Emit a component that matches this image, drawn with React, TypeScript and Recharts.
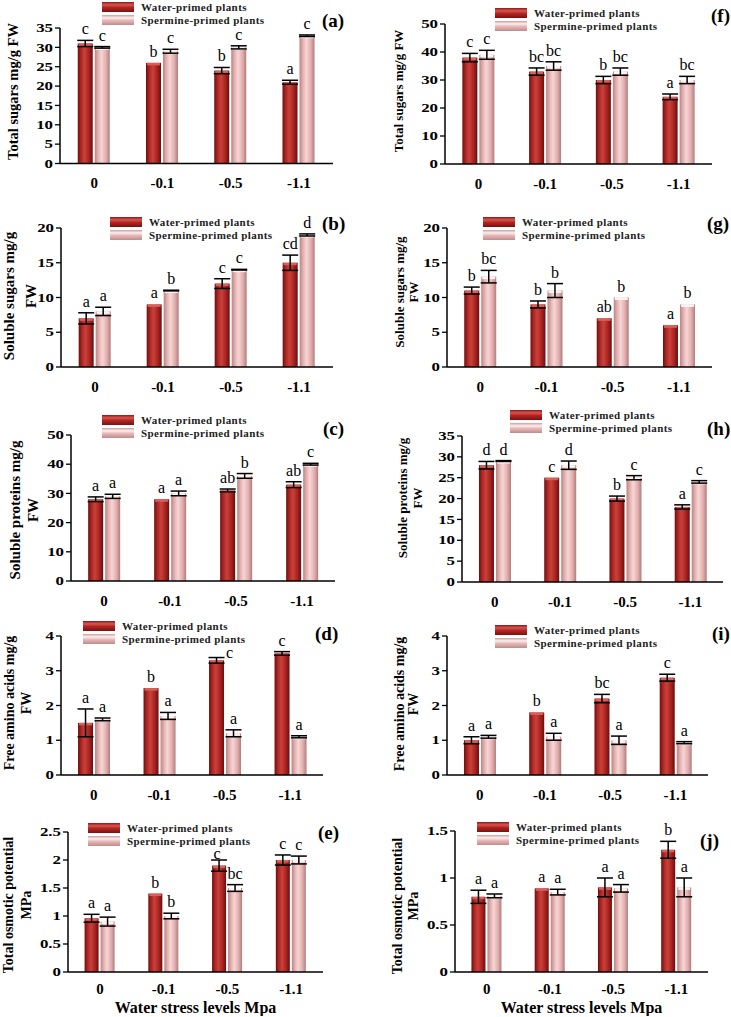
import { BarChart, Bar, XAxis, YAxis, ErrorBar, LabelList, Legend, Label } from 'recharts';

const SERIF = '"Liberation Serif", "Times New Roman", serif';

const levels = ['0', '-0.1', '-0.5', '-1.1'];
const edgeTicks = [0, 1, 2, 3, 4];

// (a) total sugars, left
const aWater = [31, 26, 24, 21];
const aWaterSe = [0.8, 0, 0.8, 0.5];
const aSperm = [30, 29, 30, 33];
const aSpermSe = [0.2, 0.5, 0.4, 0.2];
const aWaterSig = ['c', 'b', 'b', 'a'];
const aSpermSig = ['c', 'c', 'c', 'c'];
const aTicks = [0, 5, 10, 15, 20, 25, 30, 35];

// (f) total sugars, right
const fWater = [38, 33, 30, 24];
const fWaterSe = [1.5, 1.3, 1.3, 1.0];
const fSperm = [39, 35, 33, 30];
const fSpermSe = [1.6, 1.5, 1.3, 1.3];
const fWaterSig = ['c', 'bc', 'b', 'a'];
const fSpermSig = ['c', 'bc', 'bc', 'bc'];
const fTicks = [0, 10, 20, 30, 40, 50];

// (b) soluble sugars, left
const bWater = [7, 9, 12, 15];
const bWaterSe = [0.8, 0, 0.7, 1.1];
const bSperm = [8, 11, 14, 19];
const bSpermSe = [0.6, 0.05, 0.05, 0.15];
const bWaterSig = ['a', 'a', 'c', 'cd'];
const bSpermSig = ['a', 'b', 'c', 'd'];
const bTicks = [0, 5, 10, 15, 20];

// (g) soluble sugars, right
const gWater = [11, 9, 7, 6];
const gWaterSe = [0.5, 0.5, 0, 0];
const gSperm = [13, 11, 10, 9];
const gSpermSe = [0.9, 1.0, 0, 0];
const gWaterSig = ['b', 'b', 'ab', 'a'];
const gSpermSig = ['bc', 'b', 'b', 'b'];
const gTicks = [0, 5, 10, 15, 20];

// (c) soluble proteins, left
const cWater = [28, 28, 31, 33];
const cWaterSe = [0.8, 0, 0.5, 1.0];
const cSperm = [29, 30, 36, 40];
const cSpermSe = [0.7, 0.8, 0.8, 0.3];
const cWaterSig = ['a', 'a', 'ab', 'ab'];
const cSpermSig = ['a', 'a', 'b', 'c'];
const cTicks = [0, 10, 20, 30, 40, 50];

// (h) soluble proteins, right
const hWater = [28, 25, 20, 18];
const hWaterSe = [0.9, 0, 0.6, 0.5];
const hSperm = [29, 28, 25, 24];
const hSpermSe = [0.1, 1.0, 0.5, 0.3];
const hWaterSig = ['d', 'c', 'b', 'a'];
const hSpermSig = ['d', 'd', 'c', 'c'];
const hTicks = [0, 5, 10, 15, 20, 25, 30, 35];

// (d) free amino acids, left
const dWater = [1.5, 2.5, 3.3, 3.5];
const dWaterSe = [0.4, 0, 0.08, 0.05];
const dSperm = [1.6, 1.7, 1.2, 1.1];
const dSpermSe = [0.04, 0.1, 0.1, 0.03];
const dWaterSig = ['a', 'b', 'c', 'c'];
const dSpermSig = ['a', 'a', 'a', 'a'];
const dTicks = [0, 1, 2, 3, 4];

// (i) free amino acids, right
const iWater = [1.0, 1.8, 2.2, 2.8];
const iWaterSe = [0.1, 0, 0.12, 0.1];
const iSperm = [1.1, 1.1, 1.0, 0.93];
const iSpermSe = [0.04, 0.1, 0.12, 0.03];
const iWaterSig = ['a', 'b', 'bc', 'c'];
const iSpermSig = ['a', 'a', 'a', 'a'];
const iTicks = [0, 1, 2, 3, 4];

// (e) total osmotic potential, left
const eWater = [0.96, 1.4, 1.9, 2.0];
const eWaterSe = [0.07, 0, 0.1, 0.09];
const eSperm = [0.9, 1.0, 1.5, 2.0];
const eSpermSe = [0.08, 0.05, 0.06, 0.07];
const eWaterSig = ['a', 'b', 'c', 'c'];
const eSpermSig = ['a', 'b', 'bc', 'c'];
const eTicks = [0, 0.5, 1, 1.5, 2, 2.5];

// (j) total osmotic potential, right
const jWater = [0.8, 0.89, 0.9, 1.3];
const jWaterSe = [0.07, 0, 0.1, 0.09];
const jSperm = [0.81, 0.85, 0.89, 0.9];
const jSpermSe = [0.02, 0.03, 0.04, 0.1];
const jWaterSig = ['a', 'a', 'a', 'b'];
const jSpermSig = ['a', 'a', 'a', 'a'];
const jTicks = [0, 0.5, 1, 1.5];

const none: number[][] = [];

type Panel = {
  id: string;
  col: 0 | 1;
  bottom?: boolean;
  water: number[]; waterSe: number[]; sperm: number[]; spermSe: number[];
  waterSig: string[]; spermSig: string[]; ticks: number[];
  waterShift: number[][]; spermShift: number[][];
  plot: [number, number, number, number]; // page coords: left, top, right, bottom
  yTitle: string[]; yTitleX: number[]; yTitleY: number; yTitleSize: number;
  legend: [number, number];
  tag: [number, number];
};

const panels: Panel[] = [
  { id: 'a', col: 0, water: aWater, waterSe: aWaterSe, sperm: aSperm, spermSe: aSpermSe, waterSig: aWaterSig, spermSig: aSpermSig, ticks: aTicks, waterShift: none, spermShift: none,
    plot: [60, 27.5, 333, 163], yTitle: ['Total sugars mg/g FW'], yTitleX: [13], yTitleY: 91, yTitleSize: 14.5, legend: [102, 2], tag: [322, 20] },
  { id: 'f', col: 1, water: fWater, waterSe: fWaterSe, sperm: fSperm, spermSe: fSpermSe, waterSig: fWaterSig, spermSig: fSpermSig, ticks: fTicks, waterShift: none, spermShift: none,
    plot: [445, 24, 712, 164], yTitle: ['Total sugars mg/g FW'], yTitleX: [398], yTitleY: 91, yTitleSize: 13, legend: [495, 8], tag: [711, 15] },
  { id: 'b', col: 0, water: bWater, waterSe: bWaterSe, sperm: bSperm, spermSe: bSpermSe, waterSig: bWaterSig, spermSig: bSpermSig, ticks: bTicks, waterShift: none, spermShift: none,
    plot: [61, 228, 333, 367], yTitle: ['Soluble sugars mg/g', 'FW'], yTitleX: [9, 31], yTitleY: 296, yTitleSize: 15, legend: [110, 217], tag: [322, 223] },
  { id: 'g', col: 1, water: gWater, waterSe: gWaterSe, sperm: gSperm, spermSe: gSpermSe, waterSig: gWaterSig, spermSig: gSpermSig, ticks: gTicks, waterShift: none, spermShift: none,
    plot: [447, 228, 712, 367], yTitle: ['Soluble sugars mg/g', 'FW'], yTitleX: [399, 413], yTitleY: 292, yTitleSize: 13, legend: [483, 217], tag: [707, 223] },
  { id: 'c', col: 0, water: cWater, waterSe: cWaterSe, sperm: cSperm, spermSe: cSpermSe, waterSig: cWaterSig, spermSig: cSpermSig, ticks: cTicks, waterShift: none, spermShift: none,
    plot: [71, 435, 335, 581], yTitle: ['Soluble proteins mg/g', 'FW'], yTitleX: [15, 33], yTitleY: 510, yTitleSize: 15, legend: [102, 415], tag: [323, 428] },
  { id: 'h', col: 1, water: hWater, waterSe: hWaterSe, sperm: hSperm, spermSe: hSpermSe, waterSig: hWaterSig, spermSig: hSpermSig, ticks: hTicks, waterShift: none, spermShift: none,
    plot: [462, 436, 723, 582], yTitle: ['Soluble proteins mg/g', 'FW'], yTitleX: [402, 417], yTitleY: 498, yTitleSize: 13, legend: [510, 410], tag: [707, 428] },
  { id: 'd', col: 0, water: dWater, waterSe: dWaterSe, sperm: dSperm, spermSe: dSpermSe, waterSig: dWaterSig, spermSig: dSpermSig, ticks: dTicks,
    waterShift: [[0, 0], [0, 0], [13, 6], [0, 0]], spermShift: none,
    plot: [61, 636, 323, 775], yTitle: ['Free amino acids mg/g', 'FW'], yTitleX: [9, 26], yTitleY: 703, yTitleSize: 14, legend: [83, 621], tag: [315, 633] },
  { id: 'i', col: 1, water: iWater, waterSe: iWaterSe, sperm: iSperm, spermSe: iSpermSe, waterSig: iWaterSig, spermSig: iSpermSig, ticks: iTicks, waterShift: none, spermShift: none,
    plot: [447, 636, 708, 775], yTitle: ['Free amino acids mg/g', 'FW'], yTitleX: [399, 413], yTitleY: 704, yTitleSize: 14, legend: [495, 625], tag: [712, 633] },
  { id: 'e', col: 0, bottom: true, water: eWater, waterSe: eWaterSe, sperm: eSperm, spermSe: eSpermSe, waterSig: eWaterSig, spermSig: eSpermSig, ticks: eTicks,
    waterShift: [[0, 0], [0, 0], [-2, 5], [0, 0]], spermShift: none,
    plot: [68, 832, 323, 972], yTitle: ['Total osmotic potential', 'MPa'], yTitleX: [8, 26], yTitleY: 905, yTitleSize: 14, legend: [88, 823], tag: [318, 832] },
  { id: 'j', col: 1, bottom: true, water: jWater, waterSe: jWaterSe, sperm: jSperm, spermSe: jSpermSe, waterSig: jWaterSig, spermSig: jSpermSig, ticks: jTicks, waterShift: none, spermShift: none,
    plot: [455, 831, 708, 972], yTitle: ['Total osmotic potential', 'MPa'], yTitleX: [397, 413], yTitleY: 906, yTitleSize: 14, legend: [477, 822], tag: [700, 840] },
];

const waterSwatch = 'linear-gradient(to bottom, #8e1818 0%, #d9554f 28%, #b02622 55%, #7a1010 100%)';
const spermSwatch = 'linear-gradient(to bottom, #cf9c9c 0%, #fcefef 28%, #e8b8b8 55%, #bf8b8b 100%)';

const barFace = (grad: string, cap: string) => (props: any) => {
  const { x, y, width, height } = props;
  if (!(height > 0)) return <g />;
  return (
    <g>
      <rect x={x} y={y} width={width} height={height} fill={`url(#${grad})`} />
      <rect x={x + 1} y={y} width={Math.max(0, width - 2)} height={Math.min(2.5, height)} fill={cap} />
    </g>
  );
};

const sigContent = (sig: string[], vals: number[], se: number[], shift: number[][]) => (props: any) => {
  const vb = props.viewBox || props;
  const i = props.index as number;
  const x = Number(vb.x), y = Number(vb.y), w = Number(vb.width), h = Number(vb.height);
  const top = y - (se[i] || 0) * (h / vals[i]);
  const [dx, dy] = shift[i] || [0, 0];
  return (
    <text x={x + w / 2 + dx} y={top - 6 + dy} textAnchor="middle" fontFamily={SERIF} fontSize={16} fill="#000">
      {sig[i]}
    </text>
  );
};

const YTick = ({ x, y, payload }: any) => (
  <text transform={`translate(${x},${y}) scale(1.35,1)`} textAnchor="end" dominantBaseline="central"
    fontSize={12.5} fontWeight={700} fontFamily={SERIF} fill="#000">
    {payload.value}
  </text>
);

const LegendBox = () => (
  <div style={{ fontFamily: SERIF, fontWeight: 700, fontSize: 11, letterSpacing: 0.4, color: '#222', lineHeight: '13px', whiteSpace: 'nowrap' }}>
    <div style={{ display: 'flex', alignItems: 'center', height: 13 }}>
      <span style={{ display: 'inline-block', width: 32, height: 10, background: waterSwatch, marginRight: 7 }} />
      Water-primed plants
    </div>
    <div style={{ display: 'flex', alignItems: 'center', height: 13 }}>
      <span style={{ display: 'inline-block', width: 32, height: 10, background: spermSwatch, marginRight: 7 }} />
      Spermine-primed plants
    </div>
  </div>
);

function Chart({ p }: { p: Panel }) {
  const svgLeft = p.col === 0 ? 0 : 380;
  const W = p.col === 0 ? 365 : 351;
  const [L, T, R, B] = p.plot;
  const MT = 40;
  const MB = p.bottom ? 44 : 30;
  const svgTop = T - MT;
  const H = MT + (B - T) + MB;
  const ml = L - svgLeft;
  const mr = svgLeft + W - R;
  const data = levels.map((lv, i) => ({
    level: lv, water: p.water[i], waterSe: p.waterSe[i], sperm: p.sperm[i], spermSe: p.spermSe[i],
  }));
  const gw = `gw-${p.id}`;
  const gs = `gs-${p.id}`;
  const maxY = p.ticks[p.ticks.length - 1];

  const titles = () => (
    <g fontFamily={SERIF} fontWeight={700} fill="#000">
      {p.yTitle.map((t, k) => {
        const cx = p.yTitleX[k] - svgLeft;
        const cy = p.yTitleY - svgTop;
        return (
          <text key={k} x={cx} y={cy} transform={`rotate(-90 ${cx} ${cy})`} textAnchor="middle"
            dominantBaseline="central" fontSize={p.yTitleSize}>{t}</text>
        );
      })}
      <text x={p.tag[0] - svgLeft} y={p.tag[1] - svgTop} dominantBaseline="central" fontSize={19}>({p.id})</text>
    </g>
  );

  return (
    <div style={{ position: 'absolute', left: svgLeft, top: svgTop }}>
      <BarChart width={W} height={H} data={data} margin={{ top: MT, right: mr, bottom: 0, left: 0 }}
        barCategoryGap="26%" barGap={2}>
        <defs>
          <linearGradient id={gw} x1="0" y1="0" x2="1" y2="0">
            <stop offset="0%" stopColor="#6f0f0f" />
            <stop offset="25%" stopColor="#b32b27" />
            <stop offset="45%" stopColor="#c9413b" />
            <stop offset="75%" stopColor="#a82320" />
            <stop offset="100%" stopColor="#6a0e0e" />
          </linearGradient>
          <linearGradient id={gs} x1="0" y1="0" x2="1" y2="0">
            <stop offset="0%" stopColor="#b98585" />
            <stop offset="25%" stopColor="#e7b5b4" />
            <stop offset="45%" stopColor="#f6d6d5" />
            <stop offset="75%" stopColor="#e3aeae" />
            <stop offset="100%" stopColor="#b07c7c" />
          </linearGradient>
        </defs>
        <XAxis xAxisId={0} type="number" domain={[0, 4]} ticks={edgeTicks} allowDataOverflow height={0}
          axisLine={false} tick={false} tickLine={{ stroke: '#000', strokeWidth: 1.3 }} tickSize={5} />
        <XAxis xAxisId="cat" dataKey="level" height={MB} interval={0}
          axisLine={{ stroke: '#000', strokeWidth: 1.5 }} tickLine={false} tickSize={0}
          tickMargin={p.bottom ? 11 : 14}
          tick={{ fill: '#000', fontSize: 15, fontWeight: 700, fontFamily: SERIF }}
          label={p.bottom ? { value: 'Water stress levels Mpa', position: 'insideBottom', offset: 3, fill: '#000', fontSize: 16, fontWeight: 700, fontFamily: SERIF } : undefined} />
        <YAxis width={ml} domain={[0, maxY]} ticks={p.ticks} interval={0} allowDataOverflow
          axisLine={{ stroke: '#000', strokeWidth: 1.5 }} tickLine={{ stroke: '#000', strokeWidth: 1.3 }}
          tickSize={5} tickMargin={2} tick={YTick}
          label={<Label value="" content={titles} />} />
        <Bar xAxisId="cat" dataKey="water" isAnimationActive={false} shape={barFace(gw, '#d8605a')}>
          <ErrorBar dataKey="waterSe" width={8} stroke="#000" strokeWidth={1.5} direction="y" isAnimationActive={false} />
          <LabelList dataKey="water" content={sigContent(p.waterSig, p.water, p.waterSe, p.waterShift)} />
        </Bar>
        <Bar xAxisId="cat" dataKey="sperm" isAnimationActive={false} shape={barFace(gs, '#fff3f3')}>
          <ErrorBar dataKey="spermSe" width={8} stroke="#000" strokeWidth={1.5} direction="y" isAnimationActive={false} />
          <LabelList dataKey="sperm" content={sigContent(p.spermSig, p.sperm, p.spermSe, p.spermShift)} />
        </Bar>
        <Legend layout="horizontal" verticalAlign="middle" align="center" content={LegendBox}
          wrapperStyle={{ left: p.legend[0] - svgLeft, top: p.legend[1] - svgTop - 1.5, width: 250, height: 26 }} />
      </BarChart>
    </div>
  );
}

export default function App() {
  return (
    <div style={{ position: 'absolute', left: 0, top: 0, width: 731, height: 1017, overflow: 'hidden', background: '#fff' }}>
      {panels.map((p) => (
        <Chart key={p.id} p={p} />
      ))}
    </div>
  );
}
